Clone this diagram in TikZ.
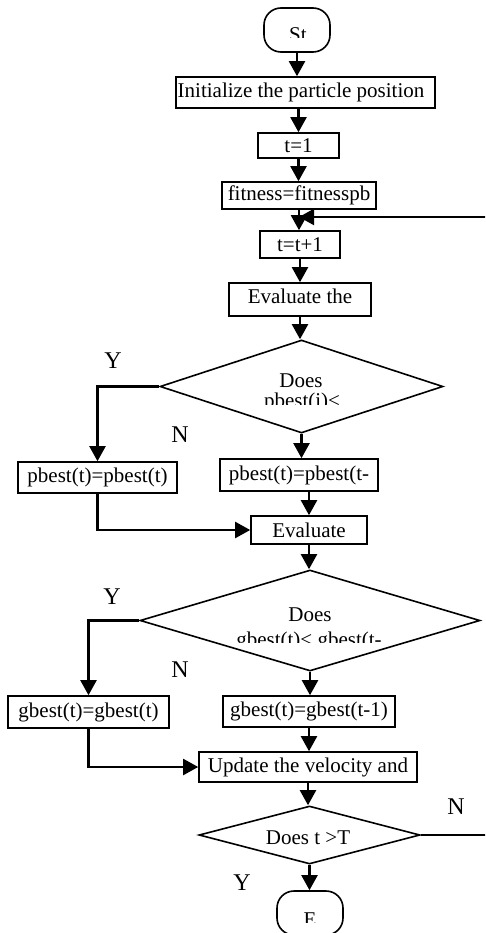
\documentclass[tikz,border=0pt]{standalone}
\usepackage{fontspec}
\setmainfont{Liberation Serif}
\usetikzlibrary{arrows.meta,shapes.geometric,calc}
\begin{document}
\begin{tikzpicture}[x=1pt,y=-1pt,
  box/.style={draw,line width=1.6pt,inner sep=0pt,font=\fontsize{21}{24}\selectfont},
  term/.style={draw,line width=1.6pt,rounded corners=17pt,inner sep=0pt,minimum width=66pt,minimum height=44pt},
  dia/.style={draw,line width=1.6pt,diamond,inner sep=0pt},
  arr/.style={line width=2.1pt,-{Triangle[width=16pt,length=15pt]}},
  ln/.style={line width=2.1pt},
  lbl/.style={font=\fontsize{24}{28}\selectfont,inner sep=0pt,anchor=base},
  txt/.style={font=\fontsize{21}{24}\selectfont,inner sep=0pt,anchor=base}]
\useasboundingbox (0,0) rectangle (485,933);
\clip (0,0) rectangle (485,933);

% terminals
\node[term] (start) at (297,30) {};
\begin{scope}
  \clip (260,10) rectangle (335,38);
  \node[txt] (starttext) at (298,42) {St};
\end{scope}
\node[term] (stop) at (310,913) {};
\begin{scope}
  \clip (280,893) rectangle (340,922);
  \node[txt] (stoptext) at (310,926) {E};
\end{scope}

% process boxes
\node[box,minimum width=259pt,minimum height=31pt] (init) at (305.5,92.5) {};
\node[txt] (inittext) at (301,98) {Initialize the particle position};
\node[box,minimum width=81pt,minimum height=25pt] (t1) at (298.5,145.5) {t=1};
\node[box,minimum width=154pt,minimum height=27pt] (fit) at (299,195.5) {fitness=fitnesspb};
\node[box,minimum width=80pt,minimum height=27pt] (tt1) at (300,244.5) {t=t+1};
\node[box,minimum width=142pt,minimum height=33pt] (eval1) at (300,299.5) {};
\node[txt] (eval1text) at (300,303) {Evaluate the};

% decision 1
\node[dia,minimum width=283pt,minimum height=93pt] (d1) at (301.5,386.5) {};
\node[txt] (d1a) at (301,387) {Does};
\begin{scope}
  \clip (230,392) rectangle (380,404);
  \node[txt] (d1b) at (302,407) {pbest(i)<};
\end{scope}

\node[box,minimum width=159pt,minimum height=31pt] (pb1) at (97.5,477.5) {pbest(t)=pbest(t)};
\node[box,minimum width=158pt,minimum height=32pt] (pb2) at (299,475) {pbest(t)=pbest(t-};
\node[box,minimum width=116pt,minimum height=28pt] (eval2) at (309,530) {Evaluate};

% decision 2
\node[dia,minimum width=340pt,minimum height=101pt] (d2) at (310,620.5) {};
\node[txt] (d2a) at (310,621) {Does};
\begin{scope}
  \clip (220,628) rectangle (400,642);
  \node[txt] (d2b) at (309,646) {gbest(t)< gbest(t-};
\end{scope}

\node[box,minimum width=161pt,minimum height=32pt] (gb1) at (88.5,712) {gbest(t)=gbest(t)};
\node[box,minimum width=172pt,minimum height=31pt] (gb2) at (309,711.5) {gbest(t)=gbest(t-1)};
\node[box,minimum width=218pt,minimum height=30pt] (upd) at (308,767) {Update the velocity and};

% decision 3
\node[dia,minimum width=221pt,minimum height=58pt] (d3) at (309.5,835) {};
\node[txt] (d3a) at (308,844) {Does t >T};

% labels
\node[lbl] (y1) at (113,368) {Y};
\node[lbl] (n1) at (180,442) {N};
\node[lbl] (y2) at (112,604) {Y};
\node[lbl] (n2) at (180,677) {N};
\node[lbl] (n3) at (456,814) {N};
\node[lbl] (y3) at (242,890) {Y};

% connectors
\draw[arr] (start.south) -- (start.south |- init.north);
\draw[arr] (t1.north |- init.south) -- (t1.north);
\draw[arr] (t1.south) -- (t1.south |- fit.north);
\draw[arr] (fit.south) -- (fit.south |- tt1.north);
\draw[arr] (tt1.south) -- (tt1.south |- eval1.north);
\draw[arr] (eval1.south) -- (eval1.south |- d1.north);
\draw[arr] (d1.west) -| (pb1.north);
\draw[arr] (d1.south) -- (d1.south |- pb2.north);
\draw[arr] (eval2.north |- pb2.south) -- (eval2.north);
\draw[arr] (pb1.south) |- (eval2.west);
\draw[arr] (eval2.south) -- (eval2.south |- d2.north);
\draw[arr] (d2.west) -| (gb1.north);
\draw[arr] (d2.south) -- (d2.south |- gb2.north);
\draw[arr] (gb2.south) -- (gb2.south |- upd.north);
\draw[arr] (gb1.south) |- (upd.west);
\draw[arr] (upd.south) -- (upd.south |- d3.north);
\draw[arr] (d3.south) -- (d3.south |- stop.north);
\coordinate (fbB) at (500,835);
\coordinate (fbR) at (500,217);
\draw[ln] (d3.east) -- (fbB) -- (fbR);
\draw[arr] (fbR) -- (fit.south |- fbR);
\end{tikzpicture}
\end{document}
